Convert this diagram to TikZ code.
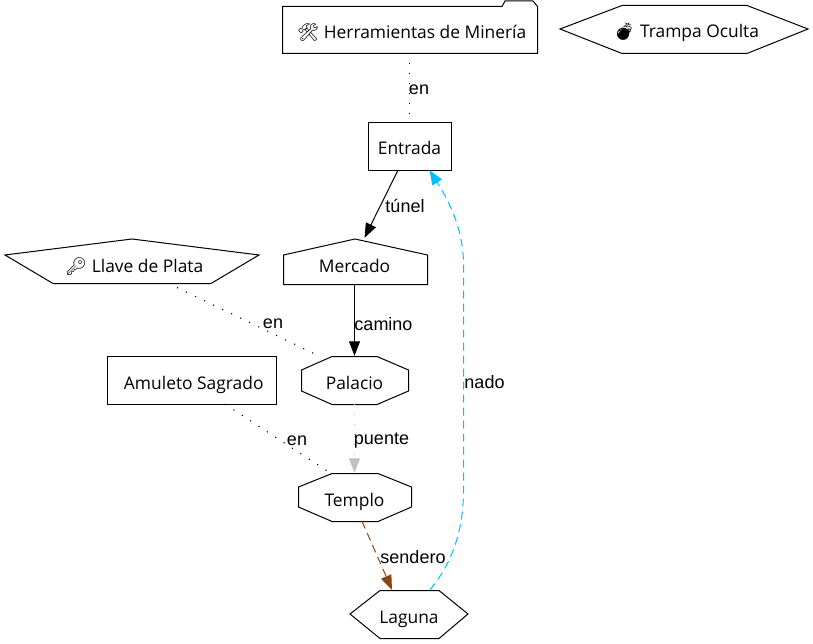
\documentclass[tikz,border=0pt]{standalone}
\usepackage{fontspec}
\setmainfont{Open Sans}
\newfontfamily\labelfont{Liberation Sans}
\newfontfamily\emojifont{Noto Emoji}
\usetikzlibrary{arrows.meta}
\definecolor{nadocolor}{HTML}{00BFFF}
\definecolor{senderocolor}{HTML}{8B4513}
\definecolor{puentecolor}{HTML}{C0C0C0}
\tikzset{
  place/.style={inner sep=0pt,text height=18pt,text depth=0pt,font=\fontsize{17.4}{20}\selectfont},
  edgelabel/.style={inner sep=0pt,font=\labelfont\fontsize{18}{20}\selectfont},
  outline/.style={line width=1pt},
  link/.style={line width=1pt,dash pattern=on 1.2pt off 8.8pt},
  road/.style={line width=1pt,-{Triangle[length=14.5pt,width=11pt]}},
}
\begin{document}
\begin{tikzpicture}[x=1pt,y=-1pt]
  \useasboundingbox (0,0) rectangle (813,644);
  % outlines
  \draw[outline] (282.5,6.5) -- (502,6.5) -- (505,1) -- (533,1) -- (537.5,6.5) -- (537.5,53.5) -- (282.5,53.5) -- cycle;
  \draw[outline] (560,29) -- (622,5.5) -- (747,5.5) -- (808,29) -- (747,53.5) -- (622,53.5) -- cycle;
  \draw[outline] (368.5,122.5) rectangle (451.5,170.5);
  \draw[outline] (283.5,284.5) -- (283.5,255) -- (355,239) -- (427.5,255) -- (427.5,284.5) -- cycle;
  \draw[outline] (5,255) -- (132,239) -- (259,255) -- (211,283.5) -- (53,283.5) -- cycle;
  \draw[outline] (107.5,356.5) rectangle (276.5,404.5);
  \draw[outline] (301.5,370) -- (332,356.5) -- (377,356.5) -- (408.5,370) -- (408.5,391) -- (377,404.5) -- (332,404.5) -- (301.5,391) -- cycle;
  \draw[outline] (298.5,487) -- (332,473.5) -- (378,473.5) -- (411.5,487) -- (411.5,507) -- (378,521.5) -- (332,521.5) -- (298.5,507) -- cycle;
  \draw[outline] (350,614) -- (380,590.5) -- (439,590.5) -- (468,614) -- (439,638.5) -- (380,638.5) -- cycle;
  % places
  \node[place,minimum width=255pt,minimum height=47pt] (herramientas) at (409.5,29.5) {\ {\emojifont 🛠}\ Herramientas de Minería};
  \node[place,minimum width=248pt,minimum height=48pt] (trampa) at (684,29) {\ {\emojifont 💣}\ Trampa Oculta};
  \node[place,minimum width=83pt,minimum height=48pt] (entrada) at (409.5,146) {Entrada};
  \node[place,text height=21pt,minimum width=144pt,minimum height=45pt] (mercado) at (354.5,261.5) {Mercado};
  \node[place,text height=22pt,minimum width=254pt,minimum height=44pt] (llave) at (132,261) {\ {\emojifont 🔑}\ Llave de Plata};
  \node[place,minimum width=169pt,minimum height=48pt] (amuleto) at (191.5,380) {\ Amuleto Sagrado};
  \node[place,minimum width=107pt,minimum height=48pt] (palacio) at (354.5,380) {Palacio};
  \node[place,minimum width=113pt,minimum height=48pt] (templo) at (354.5,497) {Templo};
  \node[place,minimum width=118pt,minimum height=48pt] (laguna) at (409,614) {Laguna};
  % links
  \draw[link] (herramientas.south) -- (entrada.north);
  \draw[link] ([xshift=36pt]llave.south) -- ([xshift=-40pt,yshift=2pt]palacio.north);
  \draw[link] ([xshift=33.5pt]amuleto.south) -- ([xshift=-26pt,yshift=1pt]templo.north);
  \node[edgelabel] (enA) at (419,90) {en};
  \node[edgelabel] (enB) at (273,324) {en};
  \node[edgelabel] (enC) at (297,441) {en};
  % roads
  \draw[road] ([xshift=-11.5pt]entrada.south) -- ([xshift=10pt,yshift=1pt]mercado.north);
  \draw[road] (mercado.south) -- (palacio.north);
  \draw[road,puentecolor,dash pattern=on 1.2pt off 8.8pt] (palacio.south) -- (templo.north);
  \draw[road,senderocolor,dash pattern=on 8pt off 5pt] ([xshift=7.5pt]templo.south) -- ([xshift=-17pt]laguna.north);
  \draw[road,nadocolor,dash pattern=on 8pt off 5pt] ([xshift=21pt]laguna.north) .. controls (455,560) and (463.5,525) .. (463.5,490) -- (463.5,265) .. controls (463.5,225) and (445,195) .. ([xshift=20pt]entrada.south);
  \node[edgelabel] (tunel) at (405,206) {túnel};
  \node[edgelabel] (camino) at (383.5,324) {camino};
  \node[edgelabel] (puente) at (381.5,441) {puente};
  \node[edgelabel] (sendero) at (413,557) {sendero};
  \node[edgelabel] (nado) at (484.5,382) {nado};
\end{tikzpicture}
\end{document}
